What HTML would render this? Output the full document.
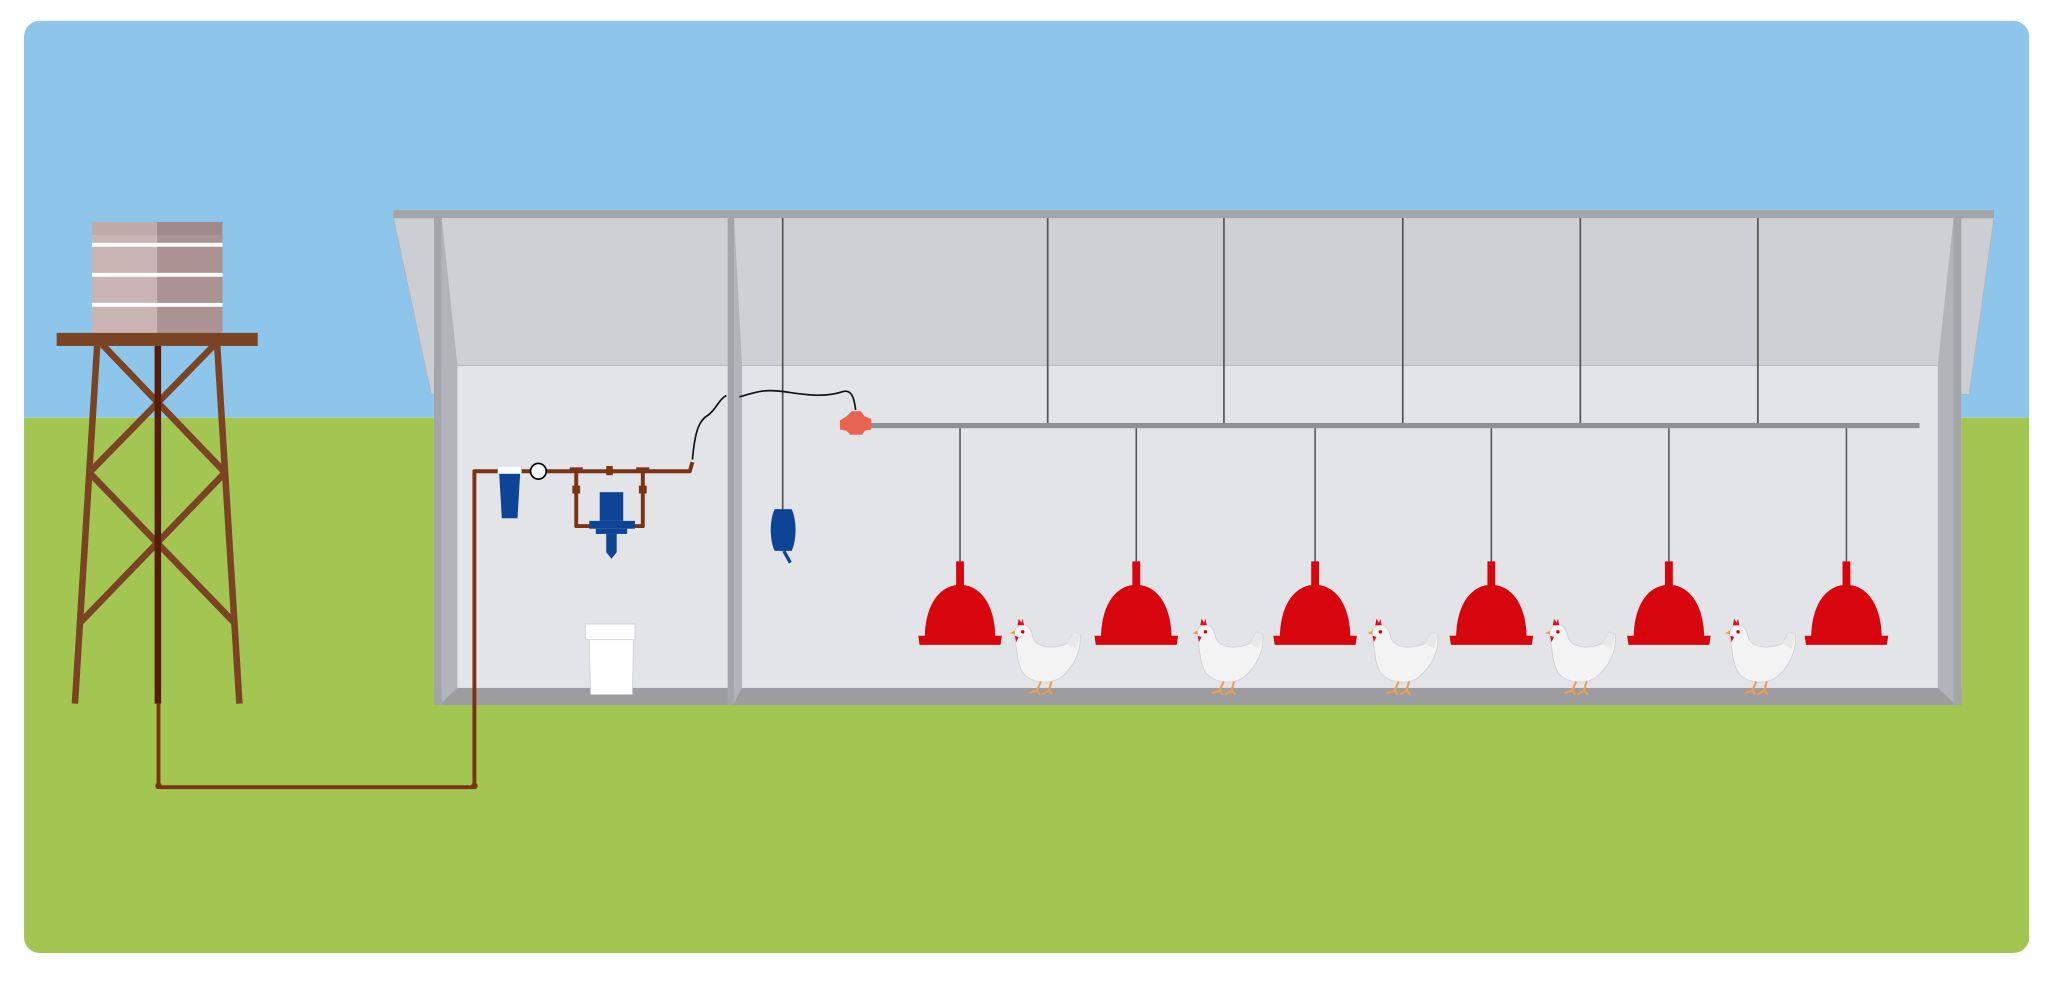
<!DOCTYPE html>
<html><head><meta charset="utf-8"><style>html,body{margin:0;padding:0;background:#fff}svg{display:block}</style></head>
<body>
<svg width="2048" height="983" viewBox="0 0 1568 753" xmlns="http://www.w3.org/2000/svg">
<defs>
<clipPath id="pc"><rect x="18" y="16" width="1536" height="714" rx="12"/></clipPath>
<g id="feeder">
<rect x="-0.6" y="0" width="1.2" height="102" fill="#555"/>
<rect x="-3" y="102" width="6" height="19" fill="#d7050e"/>
<path d="M-27,161 C-27,136 -16,120 0,120 C16,120 27,136 27,161 Z" fill="#d7050e"/>
<path d="M-32,159 L32,159 L31,166 L-31,166 Z" fill="#d7050e"/>
</g>
<g id="hen">
<path d="M-16,4 C-10,2 -7,8 -6,14 C-2,22 10,22 20,18 L25,9 L30,11 C31,24 25,36 15,44 C6,50 -8,48 -14,40 C-19,31 -18,22 -20,15 C-21,9 -20,5 -16,4 Z" fill="#f3f3f3" stroke="#cfcfcf" stroke-width="0.6"/>
<path d="M20,18 L25,9 L30,11 L27,22 Z" fill="#e8e8e8"/>
<circle cx="-14" cy="9" r="1.3" fill="#c00"/>
<path d="M-18,4 L-17,-1 L-15,2 L-14,-1 L-13,4 Z" fill="#e01020"/>
<path d="M-20,8 L-24,10 L-20,11 Z" fill="#e3a050"/>
<path d="M-20,12 L-19,17 L-17,13 Z" fill="#e01020"/>
<path d="M0,47 L-3,54 L-9,56 M-3,54 L-1,57 M8,47 L6,54 L1,57 M6,54 L9,57" stroke="#eaa050" stroke-width="1.6" fill="none"/>
</g>
</defs>
<rect width="1568" height="753" fill="#fff"/>
<g clip-path="url(#pc)">
<rect x="0" y="0" width="1568" height="320" fill="#8dc5eb"/>
<rect x="0" y="320" width="1568" height="440" fill="#a3c552"/>
</g>
<!-- water tower -->
<rect x="70" y="170" width="50" height="85" fill="#c9b5b4"/>
<rect x="120" y="170" width="50" height="85" fill="#ab9293"/>
<rect x="70" y="170" width="100" height="10" fill="#000" opacity="0.06"/>
<rect x="70" y="186" width="100" height="3" fill="#fff"/>
<rect x="70" y="209" width="100" height="3" fill="#fff"/>
<rect x="70" y="232" width="100" height="3" fill="#fff"/>
<g stroke="#7a4424" stroke-width="5" stroke-linecap="butt">
<line x1="74" y1="265" x2="57" y2="539"/>
<line x1="166" y1="265" x2="183" y2="539"/>
<line x1="78" y1="264" x2="172" y2="362"/>
<line x1="164" y1="264" x2="68" y2="362"/>
<line x1="68" y1="362" x2="180" y2="478"/>
<line x1="172" y1="362" x2="60" y2="478"/>
</g>
<rect x="118" y="265" width="5" height="274" fill="#541d07"/>
<rect x="43" y="255" width="154" height="10" fill="#7a4424"/>
<!-- barn -->
<polygon points="301,167 338,167 351,302 330,302" fill="#cdced3" stroke="#b4b5ba" stroke-width="0.6"/>
<polygon points="1527,167 1490,167 1484,302 1508,302" fill="#cdced3" stroke="#b4b5ba" stroke-width="0.6"/>
<rect x="332" y="167" width="1170" height="113" fill="#cfd0d5"/>
<rect x="332" y="280" width="1170" height="247" fill="#e3e4e8"/>
<line x1="350" y1="280" x2="1484" y2="280" stroke="#b8b9be" stroke-width="0.8"/>
<rect x="332" y="527" width="1170" height="13" fill="#9c9ca1"/>
<rect x="332" y="167" width="6" height="373" fill="#a4a5aa"/>
<polygon points="338,167 350,280 350,527 338,538" fill="#b3b4b9"/>
<rect x="557" y="167" width="5" height="373" fill="#a4a5aa"/>
<polygon points="562,167 568,280 568,527 562,538" fill="#b3b4b9"/>
<rect x="1496" y="167" width="6" height="373" fill="#a4a5aa"/>
<polygon points="1496,167 1484,280 1484,527 1496,538" fill="#b3b4b9"/>
<rect x="301" y="161" width="1226" height="6" fill="#a3a4a9"/>
<!-- hangers -->
<g fill="#555">
<rect x="598.5" y="167" width="1.3" height="225"/>
<rect x="801.5" y="167" width="1.3" height="158"/>
<rect x="936.5" y="167" width="1.3" height="158"/>
<rect x="1073.5" y="167" width="1.3" height="158"/>
<rect x="1209.5" y="167" width="1.3" height="158"/>
<rect x="1345.5" y="167" width="1.3" height="158"/>
</g>
<rect x="660" y="324" width="810" height="4" fill="#8f9094"/>
<path d="M648,319 L652,315 L659,315 L662,319 L667,321 L667,329 L662,330 L660,333 L651,333 L648,330 L643,329 L643,322 Z" fill="#e86352"/>
<path d="M530,352 C532,330 535,322 542,318 C548,314 550,306 556,303 M566,304 C580,300 585,298 600,300 C615,302 630,305 645,300 C652,298 654,305 655,314" stroke="#111" stroke-width="1.3" fill="none"/>
<path d="M593,390 L606,390 C610,398 610,414 606,422 L593,422 C589,414 589,398 593,390 Z" fill="#0e4496"/>
<line x1="600" y1="422" x2="605" y2="431" stroke="#0e4496" stroke-width="2.5"/>
<g stroke="#7a3414" stroke-width="3" fill="none" stroke-linejoin="round">
<path d="M121,539 L121,603 L363,603 L363,361 L528,361 L530,354"/>
<path d="M441,361 L441,403 L492,403 L492,361"/>
</g>
<circle cx="121" cy="602" r="2.5" fill="#7a3414"/>
<circle cx="363" cy="602" r="2.5" fill="#7a3414"/>
<g fill="#7a3414">
<rect x="436" y="358" width="10" height="4"/><rect x="487" y="358" width="10" height="4"/>
<rect x="464" y="357" width="5" height="7"/>
<rect x="438" y="372" width="6" height="6"/><rect x="489" y="372" width="6" height="6"/>
</g>
<rect x="381" y="357" width="18" height="6" fill="#fff" stroke="#ccc" stroke-width="0.5"/>
<path d="M382,363 L398,363 L396,397 L384,397 Z" fill="#0e4496"/>
<circle cx="412" cy="361" r="6" fill="#fff" stroke="#000" stroke-width="1.3"/>
<rect x="459" y="377" width="18" height="22" fill="#0e4496"/>
<rect x="451" y="399" width="35" height="6" fill="#0e4496"/>
<rect x="456" y="405" width="24" height="4" fill="#0e4496"/>
<path d="M464,409 L472,409 L472,423 L468,428 L464,423 Z" fill="#0e4496"/>
<path d="M451,490 L485,490 L484,532 L452,532 Z" fill="#fff" stroke="#ccc" stroke-width="0.6"/>
<rect x="448" y="478" width="38" height="12" fill="#fff" stroke="#ccc" stroke-width="0.6"/>
<use href="#feeder" x="735" y="328"/>
<use href="#feeder" x="870" y="328"/>
<use href="#feeder" x="1007" y="328"/>
<use href="#feeder" x="1142" y="328"/>
<use href="#feeder" x="1278" y="328"/>
<use href="#feeder" x="1414" y="328"/>
<use href="#hen" x="797" y="475"/>
<use href="#hen" x="937" y="475"/>
<use href="#hen" x="1071" y="475"/>
<use href="#hen" x="1207" y="475"/>
<use href="#hen" x="1345" y="475"/>
</svg>
</body></html>
